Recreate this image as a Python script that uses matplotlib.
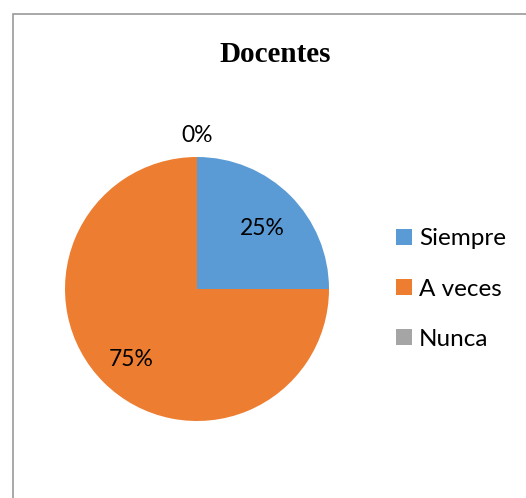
import numpy as np
import matplotlib.pyplot as plt
from matplotlib.patches import Rectangle

title = "Docentes"
categories = ["Siempre", "A veces", "Nunca"]
values = [25, 75, 0]
colors = ["#5B9BD5", "#ED7D31", "#A5A5A5"]

W, H = 526, 498
fig = plt.figure(figsize=(W / 100, H / 100), dpi=100)

# chart frame (cropped at right/bottom in the original)
fig.patches.append(Rectangle((13 / W, -0.1), 1.2, (H - 14) / H + 0.1,
                             transform=fig.transFigure, fill=False,
                             edgecolor="#9a9a9a", linewidth=1.2))

cx, cy, r = 197, 289, 132
ax = fig.add_axes([(cx - r) / W, (H - cy - r) / H, 2 * r / W, 2 * r / H])
wedges, _ = ax.pie(values, colors=colors, startangle=90, counterclock=False,
                   radius=1, wedgeprops=dict(linewidth=0))
ax.set_xlim(-1, 1)
ax.set_ylim(-1, 1)
ax.set_aspect("auto")
ax.axis("off")

for w, v in zip(wedges, values):
    mid = np.deg2rad((w.theta1 + w.theta2) / 2)
    d = 0.7 if v > 0 else 1.16
    ax.text(d * np.cos(mid), d * np.sin(mid) - (0.04 if v > 0 else 0), f"{v}%",
            ha="center", va="center", fontsize=16.5, family="Lato", color="black")

fig.text(275 / W, 1 - 55 / H, title, ha="center", va="center",
         fontsize=21, fontweight="bold", family="Liberation Serif")

fig.legend(wedges, categories, loc="center left",
           bbox_to_anchor=(384 / W, 1 - 289 / H), frameon=False,
           prop={"family": "Lato", "size": 17.5}, handlelength=0.65,
           handleheight=0.65, handletextpad=0.3, labelspacing=1.2,
           borderpad=0)

fig.savefig("out.png", dpi=100)
